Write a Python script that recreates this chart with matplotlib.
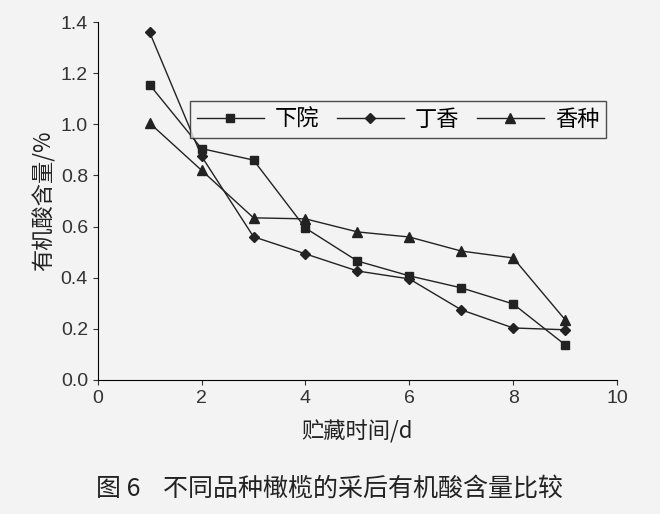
import matplotlib.pyplot as plt

plt.rcParams['font.family'] = ['Noto Sans CJK SC', 'DejaVu Sans']

days = [1, 2, 3, 4, 5, 6, 7, 8, 9]
xiayuan = [1.155, 0.905, 0.86, 0.594, 0.465, 0.407, 0.36, 0.297, 0.137]
dingxiang = [1.36, 0.875, 0.56, 0.493, 0.426, 0.395, 0.274, 0.203, 0.196]
xiangzhong = [1.005, 0.82, 0.634, 0.63, 0.579, 0.559, 0.504, 0.477, 0.235]

bg = '#f3f3f3'
fig = plt.figure(figsize=(6.6, 5.14), dpi=100, facecolor=bg)
ax = fig.add_axes([0.148, 0.261, 0.787, 0.696], facecolor=bg)

ax.plot(days, xiayuan, color='#222222', lw=1, marker='s', ms=6, label='下院')
ax.plot(days, dingxiang, color='#222222', lw=1, marker='D', ms=5, label='丁香')
ax.plot(days, xiangzhong, color='#222222', lw=1, marker='^', ms=7, label='香种')

ax.set_xlim(0, 10)
ax.set_ylim(0, 1.4)
ax.set_xticks([0, 2, 4, 6, 8, 10])
ax.set_yticks([0, 0.2, 0.4, 0.6, 0.8, 1.0, 1.2, 1.4])
ax.set_yticklabels(['0.0', '0.2', '0.4', '0.6', '0.8', '1.0', '1.2', '1.4'])
ax.tick_params(labelsize=14, colors='#333333', direction='out')
for lbl in ax.get_xticklabels() + ax.get_yticklabels():
    lbl.set_family('Liberation Sans')
for s in ['top', 'right']:
    ax.spines[s].set_visible(False)
ax.set_xlabel('贮藏时间/d', fontsize=16, color='#222222', labelpad=10)
ax.set_ylabel('有机酸含量/%', fontsize=16, color='#222222')

leg = ax.legend(ncol=3, loc='upper right', bbox_to_anchor=(1.0, 0.81), fontsize=16,
                frameon=True, fancybox=False, edgecolor='#222222', facecolor=bg,
                handlelength=3, columnspacing=0.8, borderpad=0.3, handletextpad=0.5)
leg.get_frame().set_linewidth(1)

fig.text(0.5, 0.035, '图 6    不同品种橄榄的采后有机酸含量比较', ha='center', fontsize=18, color='#222222')

fig.savefig('out.png', dpi=100, facecolor=bg)
